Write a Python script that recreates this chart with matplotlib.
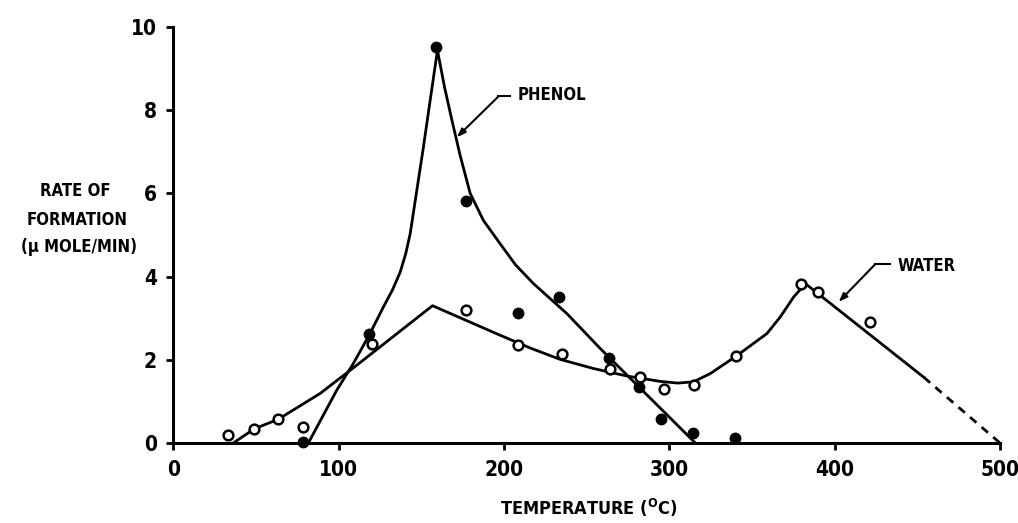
import matplotlib
matplotlib.use("Agg")
import matplotlib.pyplot as plt

plt.rcParams['font.family'] = ['DejaVu Sans']
plt.rcParams['font.weight'] = 'bold'
plt.rcParams['font.stretch'] = 'condensed'

# measured points (temperature in C, rate in umole/min)
phenol_t = [78.6, 118.3, 158.7, 176.9, 208.7, 233.5, 263.2, 281.8, 294.9, 314.3, 339.9]
phenol_v = [0.03, 2.61, 9.53, 5.81, 3.12, 3.52, 2.05, 1.35, 0.58, 0.24, 0.11]

water_t = [32.8, 48.9, 63.4, 78.6, 120.0, 177.0, 208.7, 235.0, 264.2, 282.4,
           296.5, 314.7, 340.5, 379.8, 389.7, 421.2]
water_v = [0.18, 0.34, 0.57, 0.39, 2.37, 3.19, 2.35, 2.13, 1.77, 1.58,
           1.30, 1.39, 2.09, 3.81, 3.62, 2.91]

# hand-drawn curves
phenol_curve_t = [81.6, 98.8, 108.8, 118.5, 127.0, 132.5, 137.1, 140.5, 143.2, 147.2, 151.2, 155.3,
                  159.7, 164.0, 168.5, 173.5, 179.5, 187.5, 197.6, 207.0, 217.8, 238.0, 258.2, 315.7]
phenol_curve_v = [0.0, 1.27, 1.91, 2.60, 3.27, 3.68, 4.10, 4.55, 5.03, 6.07, 7.11, 8.24,
                  9.44, 8.55, 7.75, 6.90, 6.00, 5.35, 4.79, 4.28, 3.83, 3.11, 2.27, 0.0]

water_curve_t = [36.2, 48.9, 63.4, 88.7, 110.9, 156.7, 197.6, 216.0, 233.9, 254.1, 274.3,
                 294.5, 305.0, 314.6, 324.8, 340.5, 359.0, 367.1, 375.2, 382.3, 453.9]
water_curve_v = [0.0, 0.34, 0.57, 1.19, 1.87, 3.30, 2.59, 2.28, 2.01, 1.79, 1.61,
                 1.48, 1.44, 1.47, 1.67, 2.09, 2.63, 3.03, 3.51, 3.83, 1.58]

water_dash_t = [453.9, 500.0]
water_dash_v = [1.58, 0.0]

fig = plt.figure(figsize=(10.18, 5.23), dpi=100)
ax = fig.add_axes([0.1704, 0.153, 0.8119, 0.7954])

ax.plot(phenol_curve_t, phenol_curve_v, color='black', lw=2)
ax.plot(water_curve_t, water_curve_v, color='black', lw=2)
ax.plot(water_dash_t, water_dash_v, color='black', lw=2, dashes=(3, 2.5), clip_on=False)

ax.plot(phenol_t, phenol_v, 'o', color='black', ms=7.5, clip_on=False, zorder=3)
ax.plot(water_t, water_v, 'o', mfc='white', mec='black', mew=1.8, ms=7, clip_on=False, zorder=3)

# labels with leader arrows
ax.plot([196.6, 203.7], [8.33, 8.33], color='black', lw=1.5)
ax.annotate('', xy=(171.4, 7.35), xytext=(196.6, 8.33),
            arrowprops=dict(arrowstyle='-|>,head_length=0.5,head_width=0.18',
                            lw=1.5, color='black', shrinkA=0, shrinkB=0))
ax.text(208.5, 8.36, 'PHENOL', va='center', ha='left', fontsize=12)

ax.plot([424.6, 433.7], [4.3, 4.3], color='black', lw=1.5)
ax.annotate('', xy=(402.4, 3.39), xytext=(424.6, 4.3),
            arrowprops=dict(arrowstyle='-|>,head_length=0.5,head_width=0.18',
                            lw=1.5, color='black', shrinkA=0, shrinkB=0))
ax.text(437.8, 4.25, 'WATER', va='center', ha='left', fontsize=12)

ax.set_xlim(0, 500)
ax.set_ylim(0, 10)
ax.set_xticks([0, 100, 200, 300, 400, 500])
ax.set_yticks([0, 2, 4, 6, 8, 10])
ax.tick_params(direction='out', length=5, width=2, labelsize=15, pad=7)
for s in ['top', 'right']:
    ax.spines[s].set_visible(False)
for s in ['left', 'bottom']:
    ax.spines[s].set_linewidth(2.2)

fig.text(589 / 1018, 1 - 508 / 523, r'TEMPERATURE ($^{\rm O}$C)', ha='center', va='center', fontsize=13)
fig.text(75 / 1018, 1 - 191 / 523, 'RATE OF', ha='center', va='center', fontsize=12)
fig.text(77 / 1018, 1 - 220 / 523, 'FORMATION', ha='center', va='center', fontsize=12)
fig.text(79 / 1018, 1 - 247 / 523, '(μ MOLE/MIN)', ha='center', va='center', fontsize=12)

fig.savefig('out.png', dpi=100)
